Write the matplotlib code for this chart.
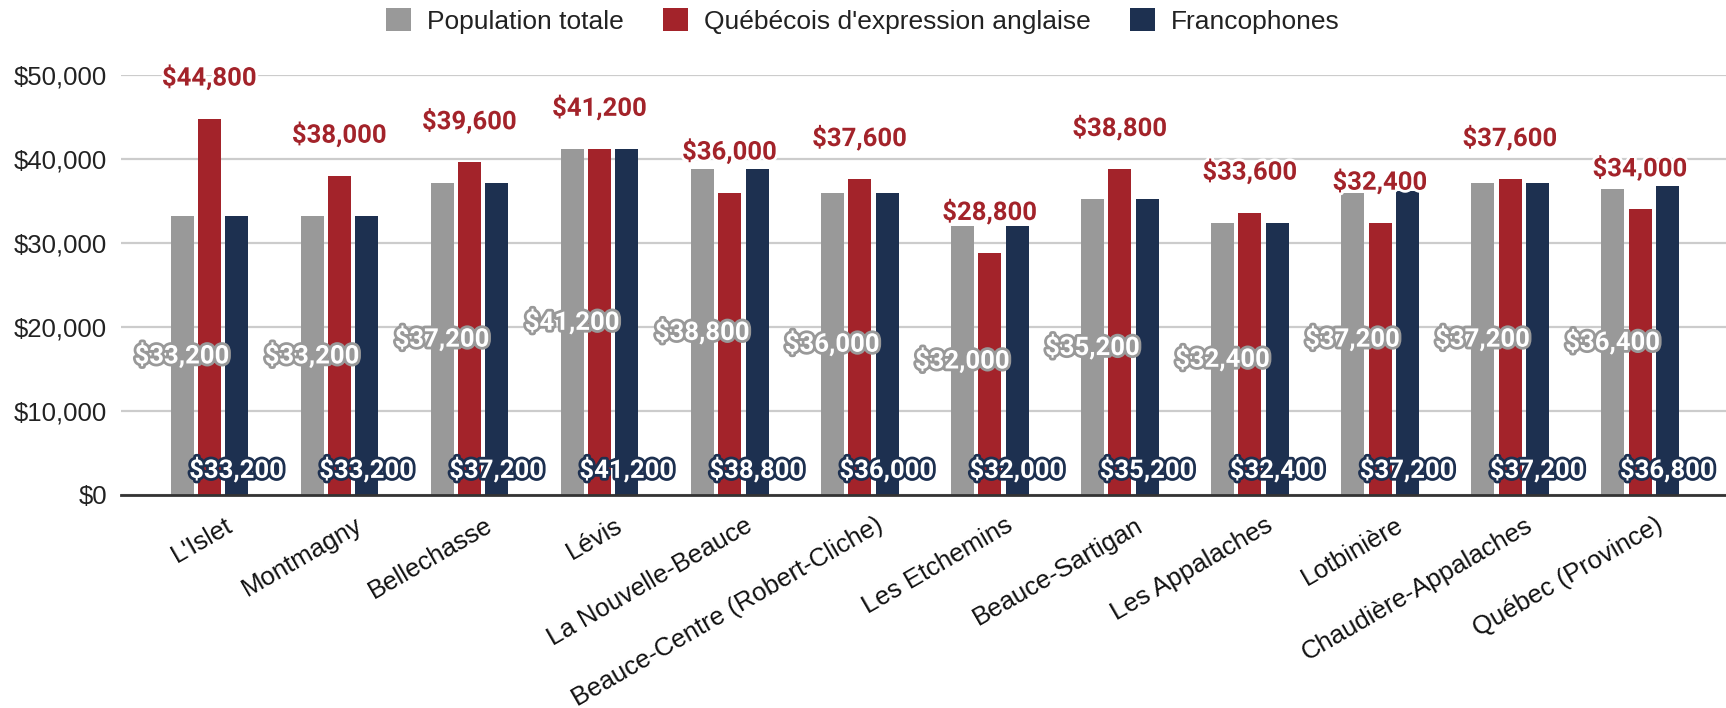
import matplotlib.pyplot as plt
import matplotlib.patheffects as pe
from matplotlib.transforms import ScaledTranslation
import numpy as np

regions = ["L'Islet", "Montmagny", "Bellechasse", "Lévis", "La Nouvelle-Beauce",
           "Beauce-Centre (Robert-Cliche)", "Les Etchemins", "Beauce-Sartigan",
           "Les Appalaches", "Lotbinière", "Chaudière-Appalaches", "Québec (Province)"]

# bar heights
pop_totale = [33200, 33200, 37200, 41200, 38800, 36000, 32000, 35200, 32400, 36000, 37200, 36400]
anglais = [44800, 38000, 39600, 41200, 36000, 37600, 28800, 38800, 33600, 32400, 37600, 34000]
francos = [33200, 33200, 37200, 41200, 38800, 36000, 32000, 35200, 32400, 36200, 37200, 36800]

# values printed in the data labels
pop_labels = [33200, 33200, 37200, 41200, 38800, 36000, 32000, 35200, 32400, 37200, 37200, 36400]
ang_labels = [44800, 38000, 39600, 41200, 36000, 37600, 28800, 38800, 33600, 32400, 37600, 34000]
fra_labels = [33200, 33200, 37200, 41200, 38800, 36000, 32000, 35200, 32400, 37200, 37200, 36800]

series_names = ["Population totale", "Québécois d'expression anglaise", "Francophones"]
c_gray = "#999999"
c_red = "#a3232a"
c_navy = "#1d3050"

fig = plt.figure(figsize=(17.26, 7.08), dpi=100)
ax = fig.add_axes([121 / 1726, 1 - 495 / 708, 1 - 121 / 1726, (495 - 75) / 708])

x = np.arange(len(regions))
w = 0.177
step = 0.21
b1 = ax.bar(x - step, pop_totale, w, color=c_gray, label=series_names[0], zorder=3)
b2 = ax.bar(x, anglais, w, color=c_red, label=series_names[1], zorder=3)
b3 = ax.bar(x + step, francos, w, color=c_navy, label=series_names[2], zorder=3)

ax.set_ylim(0, 50000)
ax.set_xlim(-0.68, 11.66)
ax.set_yticks(range(0, 50001, 10000))
ax.set_yticklabels([f"${v:,}" for v in range(0, 50001, 10000)],
                   fontsize=18.5, family="Liberation Sans", color="#222222")
ax.yaxis.grid(True, color="#cccccc", linewidth=1.6, zorder=0)
ax.set_axisbelow(True)
for s in ["top", "right", "left"]:
    ax.spines[s].set_visible(False)
ax.spines["bottom"].set_color("#333333")
ax.spines["bottom"].set_linewidth(2)
ax.spines["bottom"].set_zorder(4)
ax.tick_params(axis="y", length=0, pad=10)
ax.tick_params(axis="x", length=0, pad=13)

ax.set_xticks(x)
ax.set_xticklabels(regions, rotation=30, ha="right", va="top", rotation_mode="anchor",
                   fontsize=18.5, family="Liberation Sans", color="#111111")
shift = ScaledTranslation(15 / 100, 0, fig.dpi_scale_trans)
for lab in ax.get_xticklabels():
    lab.set_transform(lab.get_transform() + shift)

lab_font = dict(fontsize=18.5, family="Roboto", fontweight="bold")

for i in range(len(regions)):
    # red labels above the bars, white halo
    ax.annotate(f"${ang_labels[i]:,}", (x[i], anglais[i]), xytext=(0, 41),
                textcoords="offset pixels", ha="center", va="center", color=c_red,
                zorder=6, annotation_clip=False,
                path_effects=[pe.withStroke(linewidth=4, foreground="white")], **lab_font)
    # gray labels in the middle of the gray bars
    ax.text(x[i] - step, pop_labels[i] / 2, f"${pop_labels[i]:,}", ha="center", va="center",
            color="white", zorder=6,
            path_effects=[pe.withStroke(linewidth=4, foreground=c_gray)], **lab_font)
    # navy labels at the base of the navy bars
    ax.annotate(f"${fra_labels[i]:,}", (x[i] + step, 0), xytext=(0, 25),
                textcoords="offset pixels", ha="center", va="center", color="white",
                zorder=6,
                path_effects=[pe.withStroke(linewidth=4, foreground=c_navy)], **lab_font)

leg = fig.legend(handles=[b1, b2, b3], loc="center", bbox_to_anchor=(0.5, 1 - 21 / 708),
                 ncol=3, frameon=False, handlelength=0.95, handleheight=0.95,
                 handletextpad=0.6, columnspacing=1.5, borderpad=0,
                 prop={"family": "Liberation Sans", "size": 19})
for t in leg.get_texts():
    t.set_color("#222222")

fig.savefig("out.png", dpi=100)
